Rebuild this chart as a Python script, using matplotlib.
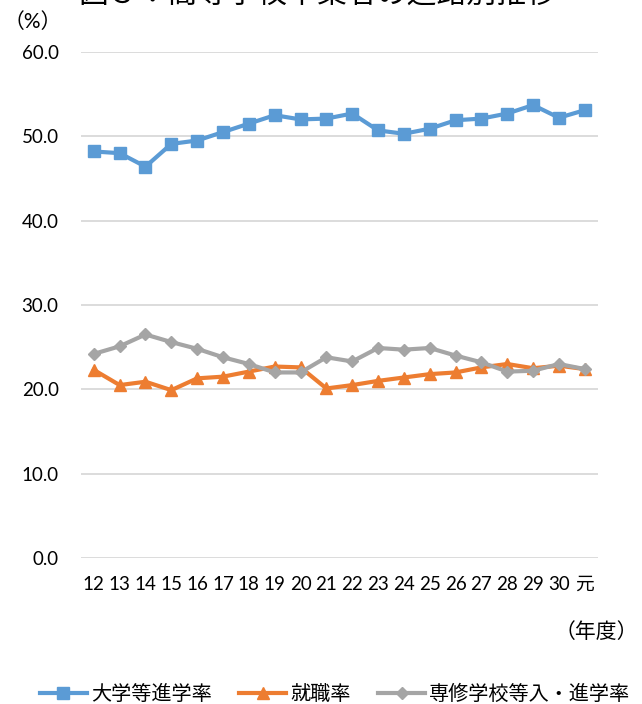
import matplotlib
matplotlib.use("Agg")
import matplotlib.pyplot as plt

plt.rcParams['font.family'] = ['Lato', 'Noto Sans CJK JP', 'DejaVu Sans']

years = ['12', '13', '14', '15', '16', '17', '18', '19', '20', '21',
         '22', '23', '24', '25', '26', '27', '28', '29', '30', '元']

univ = [48.2, 48.0, 46.4, 49.1, 49.5, 50.5, 51.5, 52.5, 52.0, 52.1,
        52.7, 50.7, 50.3, 50.9, 51.9, 52.1, 52.7, 53.7, 52.2, 53.1]
employ = [22.3, 20.5, 20.9, 19.9, 21.3, 21.5, 22.1, 22.7, 22.6, 20.1,
          20.5, 21.0, 21.4, 21.8, 22.0, 22.6, 23.0, 22.5, 22.8, 22.4]
senshu = [24.2, 25.1, 26.5, 25.6, 24.8, 23.8, 23.0, 22.0, 22.0, 23.8,
          23.3, 24.9, 24.7, 24.9, 24.0, 23.2, 22.1, 22.2, 23.0, 22.4]

fig = plt.figure(figsize=(6.42, 7.04), dpi=100)
ax = fig.add_axes([0.126, 0.2074, 0.805, 0.7188])

x = range(len(years))
ax.plot(x, univ, color='#5B9BD5', lw=3, marker='s', ms=8.5, label='大学等進学率')
ax.plot(x, employ, color='#ED7D31', lw=3, marker='^', ms=8.5, label='就職率')
ax.plot(x, senshu, color='#A5A5A5', lw=3, marker='D', ms=6, label='専修学校等入・進学率')

ax.set_ylim(0, 60)
ax.set_xlim(-0.5, len(years) - 0.5)
ax.set_yticks([0, 10, 20, 30, 40, 50, 60])
ax.set_yticklabels(['%.1f' % v for v in [0, 10, 20, 30, 40, 50, 60]])
ax.set_xticks(list(x))
ax.set_xticklabels(years)
ax.tick_params(length=0, labelsize=13.5, colors='#000000')
ax.tick_params(axis='y', pad=16)
ax.tick_params(axis='x', pad=13)
ax.grid(axis='y', color='#D9D9D9', lw=1.3)
ax.set_axisbelow(True)
for s in ax.spines.values():
    s.set_visible(False)

fig.text(0.494, 1 - 3 / 704, '図３：高等学校卒業者の進路別推移', ha='center',
         va='baseline', fontsize=21.5)
fig.text(33 / 642, 1 - 22 / 704, '（%）', ha='center', va='center', fontsize=15)
fig.text(596 / 642, 1 - 632 / 704, '（年度）', ha='center', va='center', fontsize=15)

fig.legend(loc='center', bbox_to_anchor=(0.522, 1 - 693 / 704), ncol=3,
           frameon=False, fontsize=14.5, handlelength=2.35, handletextpad=0.2,
           columnspacing=1.35, borderpad=0)

fig.savefig('out.png', dpi=100)
